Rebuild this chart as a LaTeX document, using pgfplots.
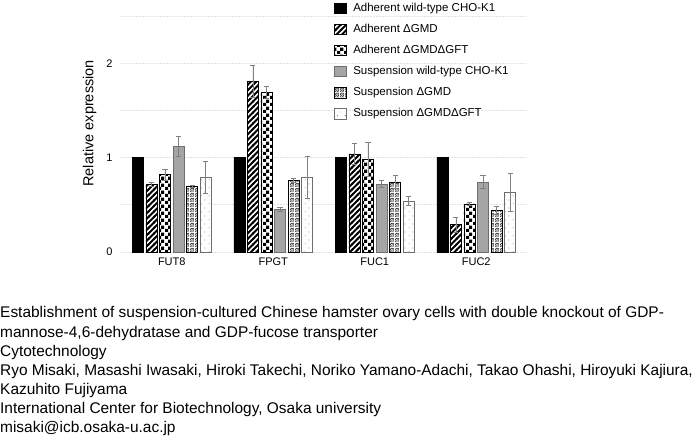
\documentclass[border=0pt]{standalone}
\usepackage{fontspec}
\setmainfont{Liberation Sans}
\usepackage{pgfplots}
\pgfplotsset{compat=1.18}
\usetikzlibrary{patterns}

\pgfdeclarepatternformonly{hatchthick}{\pgfqpoint{-1pt}{-1pt}}{\pgfqpoint{6.5pt}{6.5pt}}{\pgfqpoint{5.5pt}{5.5pt}}{%
  \pgfsetlinewidth{1.9pt}\pgfpathmoveto{\pgfqpoint{-1pt}{-1pt}}\pgfpathlineto{\pgfqpoint{6.5pt}{6.5pt}}\pgfusepath{stroke}}
\pgfdeclarepatternformonly{checkbig}{\pgfqpoint{0pt}{0pt}}{\pgfqpoint{6.6pt}{6.6pt}}{\pgfqpoint{6.6pt}{6.6pt}}{%
  \pgfpathrectangle{\pgfqpoint{0pt}{0pt}}{\pgfqpoint{3.3pt}{3.3pt}}%
  \pgfpathrectangle{\pgfqpoint{3.3pt}{3.3pt}}{\pgfqpoint{3.3pt}{3.3pt}}\pgfusepath{fill}}
\pgfdeclarepatternformonly{speckle}{\pgfqpoint{0pt}{0pt}}{\pgfqpoint{5pt}{5pt}}{\pgfqpoint{5pt}{5pt}}{%
  \pgfpathrectangle{\pgfqpoint{0.2pt}{0.3pt}}{\pgfqpoint{0.9pt}{0.9pt}}%
  \pgfpathrectangle{\pgfqpoint{2.0pt}{0.1pt}}{\pgfqpoint{0.9pt}{0.9pt}}%
  \pgfpathrectangle{\pgfqpoint{3.6pt}{0.8pt}}{\pgfqpoint{0.9pt}{0.9pt}}%
  \pgfpathrectangle{\pgfqpoint{1.1pt}{1.6pt}}{\pgfqpoint{0.9pt}{0.9pt}}%
  \pgfpathrectangle{\pgfqpoint{2.8pt}{1.9pt}}{\pgfqpoint{0.9pt}{0.9pt}}%
  \pgfpathrectangle{\pgfqpoint{0.2pt}{2.8pt}}{\pgfqpoint{0.9pt}{0.9pt}}%
  \pgfpathrectangle{\pgfqpoint{1.9pt}{3.3pt}}{\pgfqpoint{0.9pt}{0.9pt}}%
  \pgfpathrectangle{\pgfqpoint{3.7pt}{3.0pt}}{\pgfqpoint{0.9pt}{0.9pt}}%
  \pgfpathrectangle{\pgfqpoint{0.9pt}{4.1pt}}{\pgfqpoint{0.9pt}{0.9pt}}%
  \pgfpathrectangle{\pgfqpoint{3.0pt}{4.1pt}}{\pgfqpoint{0.9pt}{0.9pt}}%
  \pgfusepath{fill}}
\pgfdeclarepatternformonly{sparsedots}{\pgfqpoint{0pt}{0pt}}{\pgfqpoint{8pt}{8pt}}{\pgfqpoint{8pt}{8pt}}{%
  \pgfpathrectangle{\pgfqpoint{1pt}{1pt}}{\pgfqpoint{0.9pt}{0.9pt}}%
  \pgfpathrectangle{\pgfqpoint{5pt}{5pt}}{\pgfqpoint{0.9pt}{0.9pt}}\pgfusepath{fill}}

\definecolor{barg}{RGB}{165,165,165}
\definecolor{bargd}{RGB}{110,110,110}
\definecolor{errc}{RGB}{128,128,128}
\definecolor{gridc}{RGB}{225,225,225}

\begin{document}
\begin{tikzpicture}
\path[use as bounding box] (0pt,0pt) rectangle (697pt,437pt);
\begin{axis}[
  at={(121pt,185pt)}, anchor=south west,
  scale only axis, width=406pt, height=236pt,
  xmin=-0.5, xmax=3.5, ymin=0, ymax=2.5,
  ybar=2.6pt, bar width=11pt,
  xtick={0,1,2,3}, xticklabels={FUT8,FPGT,FUC1,FUC2},
  ytick={0,0.5,1,1.5,2,2.5}, yticklabels={0,,1,,2,},
  ymajorgrids, grid style={gridc, dash pattern=on 2pt off 1pt, line width=0.6pt},
  axis line style={draw=none}, major tick length=0pt,
  tick label style={font=\fontsize{11}{13}\selectfont},
  /pgf/number format/assume math mode=true,
  yticklabel style={xshift=-5pt},
  xticklabel style={yshift=-2pt},
  ylabel={Relative expression},
  ylabel style={font=\fontsize{14.5}{16}\selectfont, at={(axis description cs:-0.077,0.545)}, anchor=center},
  legend style={at={(rel axis cs:0.5246,1.057)}, anchor=north west, draw=none, fill=none,
    font=\fontsize{11.5}{13}\selectfont, inner sep=0pt,
    nodes={inner sep=0pt, text height=8.5pt, text depth=2.5pt},
    row sep=9.8pt, /tikz/every odd column/.append style={column sep=7pt}},
  legend cell align=left,
  legend image code/.code={\draw[#1] (0pt,-5pt) rectangle (11.5pt,5.5pt);},
  error bars/y dir=both, error bars/y explicit,
  error bars/error bar style={errc, line width=0.7pt},
  error bars/error mark options={rotate=90, errc, mark size=2.6pt, line width=0.7pt},
]
\addplot[fill=black, draw=black, error bars/y dir=none] coordinates {(0,1) (1,1) (2,1) (3,1)};
\addplot[fill=white, draw=black, line width=0.6pt, postaction={pattern=hatchthick}] coordinates {(0,0.72) +- (0,0.02) (1,1.81) +- (0,0.17) (2,1.04) +- (0,0.11) (3,0.29) +- (0,0.08)};
\addplot[fill=white, draw=black, line width=0.6pt, postaction={pattern=checkbig}] coordinates {(0,0.82) +- (0,0.06) (1,1.69) +- (0,0.06) (2,0.98) +- (0,0.18) (3,0.51) +- (0,0.02)};
\addplot[fill=barg, draw=bargd, line width=0.6pt] coordinates {(0,1.12) +- (0,0.11) (1,0.45) +- (0,0.02) (2,0.72) +- (0,0.04) (3,0.74) +- (0,0.07)};
\addplot[fill=white, draw=black, line width=0.6pt, postaction={pattern=speckle}] coordinates {(0,0.70) +- (0,0.01) (1,0.76) +- (0,0.02) (2,0.74) +- (0,0.07) (3,0.44) +- (0,0.04)};
\addplot[fill=white, draw=bargd, line width=0.6pt, postaction={pattern=sparsedots, pattern color=gray}] coordinates {(0,0.79) +- (0,0.17) (1,0.79) +- (0,0.22) (2,0.54) +- (0,0.05) (3,0.63) +- (0,0.20)};
\legend{Adherent wild-type CHO-K1, Adherent ΔGMD, Adherent ΔGMDΔGFT, Suspension wild-type CHO-K1, Suspension ΔGMD, Suspension ΔGMDΔGFT}
\end{axis}
\begin{scope}[every node/.style={anchor=base west, inner sep=0pt, font=\fontsize{15.45}{19}\selectfont}]
\node at (0pt,119pt) {Establishment of suspension-cultured Chinese hamster ovary cells with double knockout of GDP-};
\node at (0pt,99.95pt) {mannose-4,6-dehydratase and GDP-fucose transporter};
\node at (0pt,80.9pt) {Cytotechnology};
\node at (0pt,61.85pt) {Ryo Misaki, Masashi Iwasaki, Hiroki Takechi, Noriko Yamano-Adachi, Takao Ohashi, Hiroyuki Kajiura,};
\node at (0pt,42.8pt) {Kazuhito Fujiyama};
\node at (0pt,23.75pt) {International Center for Biotechnology, Osaka university};
\node at (0pt,4.7pt) {misaki@icb.osaka-u.ac.jp};
\end{scope}
\end{tikzpicture}
\end{document}
